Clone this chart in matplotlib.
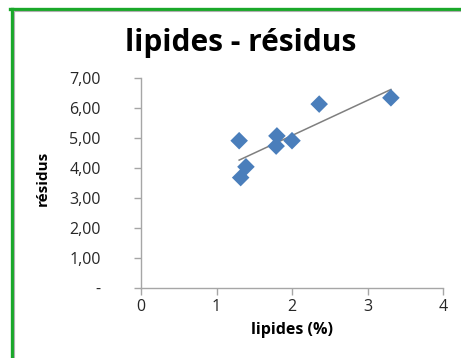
import matplotlib.pyplot as plt
import numpy as np
from matplotlib.lines import Line2D

# values
lipides = [1.30, 1.32, 1.39, 1.80, 1.79, 2.00, 2.36, 3.31]
residus = [4.91, 3.68, 4.04, 5.07, 4.73, 4.91, 6.13, 6.34]
y_ticks = [0, 1, 2, 3, 4, 5, 6, 7]
y_labels = ["-", "1,00", "2,00", "3,00", "4,00", "5,00", "6,00", "7,00"]
x_ticks = [0, 1, 2, 3, 4]

plt.rcParams['font.family'] = ['Open Sans', 'DejaVu Sans']

W, H = 461, 358
fig = plt.figure(figsize=(W / 100, H / 100), dpi=100)
ax = fig.add_axes([141 / W, 1 - 288 / H, (443 - 141) / W, (288 - 78) / H])

x = np.array(lipides)
y = np.array(residus)
ax.scatter(x, y, marker='D', s=80, color='#4a7ebb', edgecolors='none', zorder=3)

# linear trendline
a, b = np.polyfit(x, y, 1)
xs = np.array([x.min(), x.max()])
ax.plot(xs, a * xs + b, color='#7f7f7f', lw=1.1, zorder=2)

ax.set_xlim(0, 4)
ax.set_ylim(0, 7)
ax.set_xticks(x_ticks)
ax.set_xticklabels([str(t) for t in x_ticks])
ax.set_yticks(y_ticks)
ax.set_yticklabels(y_labels)

for s in ['top', 'right']:
    ax.spines[s].set_visible(False)
for s in ['left', 'bottom']:
    ax.spines[s].set_color('#a6a6a6')
    ax.spines[s].set_linewidth(1)
ax.tick_params(axis='both', colors='#a6a6a6', length=5, width=1, labelsize=11.5,
               labelcolor='#262626')
ax.tick_params(axis='y', pad=24)
ax.tick_params(axis='x', pad=3)

ax.set_xlabel("lipides (%)", fontsize=11.5, fontweight='bold', labelpad=5)
ax.set_ylabel("résidus", fontsize=11, fontweight='bold', labelpad=8)
ax.yaxis.set_label_coords(-(141 - 50) / (443 - 141), 0.52)

fig.text(241 / W, 1 - 43 / H, "lipides - résidus", ha='center', va='center',
         fontsize=21.5, fontweight='bold', color='black')

# green frame on the left and top
fig.add_artist(Line2D([11.5 / W, 11.5 / W], [0, 1 - 8.5 / H], color='#1aa82a', lw=2.4,
                      transform=fig.transFigure))
fig.add_artist(Line2D([10 / W, 1], [1 - 8.5 / H, 1 - 8.5 / H], color='#1aa82a', lw=2.4,
                      transform=fig.transFigure))
fig.add_artist(Line2D([14 / W, 14 / W], [0, 1 - 10.5 / H], color='#b0b0b0', lw=0.8,
                      transform=fig.transFigure))
fig.add_artist(Line2D([14 / W, 1], [1 - 10.5 / H, 1 - 10.5 / H], color='#b0b0b0', lw=0.8,
                      transform=fig.transFigure))

fig.savefig("out.png", dpi=100)
